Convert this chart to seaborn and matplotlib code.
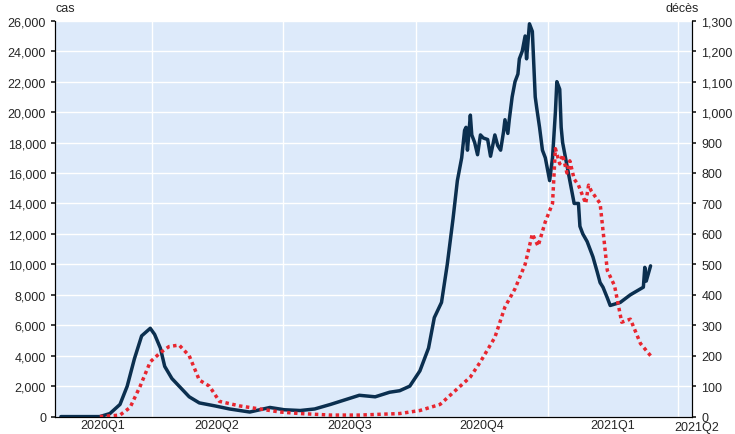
import pandas as pd
import numpy as np
import matplotlib.pyplot as plt
import matplotlib.ticker as mticker
import seaborn as sns

# days counted from 2020-01-01
case_days = [28, 55, 62, 69, 74, 79, 84, 90, 93, 97, 100, 105, 110, 117, 124, 135, 145, 159, 173, 183,
             194, 204, 215, 225, 235, 246, 256, 263, 270, 277, 283, 287, 292, 296, 300, 303, 306, 308,
             309, 310, 312, 313, 315, 317, 319, 321, 324, 326, 329, 331, 333, 335, 336, 338, 339, 341,
             343, 345, 346, 348, 350, 351, 353, 355, 357, 358, 360, 362, 364, 365, 367, 369, 371, 372,
             374, 375, 376, 378, 379, 381, 382, 384, 387, 388, 390, 393, 395, 397, 400, 402, 404, 407,
             409, 416, 423, 432, 433, 434, 437]
cases = [0, 0, 200, 800, 2000, 3800, 5300, 5800, 5400, 4500, 3300, 2500, 2000, 1300, 900, 700, 500, 300, 600, 450,
         400, 500, 800, 1100, 1400, 1300, 1600, 1700, 2000, 3000, 4500, 6500, 7500, 10000, 13000, 15500, 17000, 18800,
         19000, 17500, 19800, 18500, 18000, 17200, 18500, 18300, 18200, 17100, 18500, 17800, 17500, 18700, 19500, 18600, 19500, 21000,
         22000, 22500, 23500, 24000, 25000, 23500, 25800, 25300, 21000, 20300, 19000, 17500, 17000, 16500, 15500, 17000, 20000, 22000,
         21500, 19000, 18000, 17000, 16500, 15500, 15000, 14000, 14000, 12500, 12000, 11500, 11000, 10500, 9500, 8800, 8500, 7800,
         7300, 7500, 8000, 8500, 9800, 8900, 9900]

death_days = [55, 69, 76, 83, 90, 97, 103, 110, 117, 124, 131, 138, 152, 166, 180, 194, 215, 235, 263, 277,
              291, 305, 312, 319, 329, 336, 343, 350, 355, 359, 364, 369, 371, 374, 376, 379, 381, 384,
              387, 392, 394, 396, 399, 402, 407, 412, 417, 423, 430, 437]
deaths = [0, 5, 30, 100, 180, 210, 230, 235, 200, 120, 100, 50, 35, 25, 15, 10, 5, 5, 10, 20,
          40, 100, 130, 180, 260, 360, 420, 500, 600, 560, 640, 700, 880, 830, 860, 800, 840, 780,
          760, 700, 760, 740, 720, 700, 480, 430, 310, 320, 240, 200]

base = pd.Timestamp("2020-01-01")
df_c = pd.DataFrame({"date": base + pd.to_timedelta(case_days, unit="D"), "cas": cases})
df_d = pd.DataFrame({"date": base + pd.to_timedelta(death_days, unit="D"), "deces": deaths})

sns.set_theme(style="white")
plt.rcParams['font.family'] = ['Liberation Sans', 'DejaVu Sans']

fig, ax = plt.subplots(figsize=(7.35, 4.35), dpi=100)
fig.subplots_adjust(left=0.075, right=0.942, top=0.95, bottom=0.04)
ax.set_facecolor("#DDEAFA")
ax2 = ax.twinx()

sns.lineplot(data=df_c, x="date", y="cas", ax=ax, color="#0B2F4F", linewidth=2.5, zorder=3)
sns.lineplot(data=df_d, x="date", y="deces", ax=ax2, color="#E8262F", linewidth=2.5,
             linestyle=(0, (1, 1)), zorder=3)

ax.set_xlim(base + pd.Timedelta(days=24), base + pd.Timedelta(days=466))
ax.set_ylim(0, 26000)
ax2.set_ylim(0, 1300)
ax.yaxis.set_major_locator(mticker.MultipleLocator(2000))
ax2.yaxis.set_major_locator(mticker.MultipleLocator(100))
ax.yaxis.set_major_formatter(mticker.StrMethodFormatter("{x:,.0f}"))
ax2.yaxis.set_major_formatter(mticker.StrMethodFormatter("{x:,.0f}"))

quarters = pd.to_datetime(["2020-04-01", "2020-07-01", "2020-10-01", "2021-01-01", "2021-04-01"])
ax.set_xticks(quarters)
ax.set_xticklabels([])
label_pos = base + pd.to_timedelta([57, 136, 228, 320, 411], unit="D")
ax.set_xticks(label_pos, minor=True)
ax.set_xticklabels(["2020Q1", "2020Q2", "2020Q3", "2020Q4", "2021Q1"], minor=True)
ax.tick_params(axis="x", which="minor", length=0, labelsize=9, pad=2)
ax.tick_params(axis="x", which="major", length=4, direction="out")
ax.text(base + pd.Timedelta(days=469), -0.012, "2021Q2", ha="center", va="top", fontsize=9,
        transform=ax.get_xaxis_transform())
ax.grid(True, axis="both", which="major", color="white", linewidth=1)
ax.tick_params(axis="y", labelsize=9, length=3, left=True)
ax2.tick_params(axis="y", labelsize=9, length=3, right=True)
ax.set_xlabel("")
ax.set_ylabel("")
ax2.set_ylabel("")
for a in (ax, ax2):
    for s in a.spines.values():
        s.set_color("black")
        s.set_linewidth(0.8)
    a.spines["top"].set_visible(False)

fig.text(0.075, 0.965, "cas", fontsize=9, ha="left", va="bottom")
fig.text(0.905, 0.965, "décès", fontsize=9, ha="left", va="bottom")

fig.savefig("out.png", dpi=100)
